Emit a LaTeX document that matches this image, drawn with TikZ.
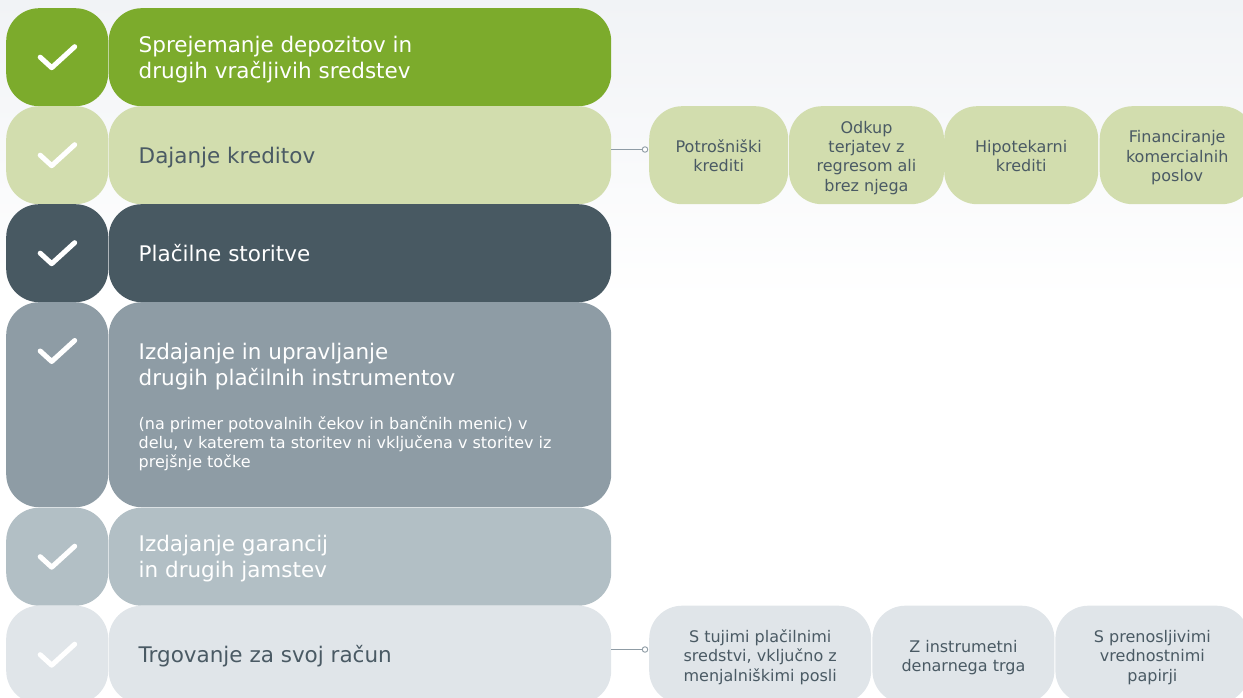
\documentclass[tikz,border=0pt]{standalone}
\usepackage{fontspec}
\setmainfont{DejaVu Sans}
\usetikzlibrary{calc}
\definecolor{cgreen}{HTML}{7CAB2C}
\definecolor{clime}{HTML}{D2DDAE}
\definecolor{cdark}{HTML}{485962}
\definecolor{cgray}{HTML}{8E9CA5}
\definecolor{cmid}{HTML}{B2BFC5}
\definecolor{cpale}{HTML}{E0E5E9}
\definecolor{ctext}{HTML}{4A5A64}
\definecolor{cline}{HTML}{8F9CA5}
\definecolor{cbg}{HTML}{F1F3F6}
\newcommand{\bigfont}{\lineskiplimit=-30pt\fontsize{21.5}{26}\selectfont}
\newcommand{\smallfont}{\lineskiplimit=-30pt\fontsize{16}{19.4}\selectfont}
\newcommand{\Bs}{\rule[-6pt]{0pt}{28pt}}
\newcommand{\Ss}{\rule[-4pt]{0pt}{22pt}}
\tikzset{
  x=1pt,y=-1pt,
  chkbox/.style={anchor=north west,inner sep=0pt,rounded corners=33pt,minimum width=102pt},
  mainbox/.style={anchor=north west,inner xsep=30pt,inner ysep=0pt,rounded corners=33pt,text width=442.5pt,align=flush left,font=\bigfont},
  subbox/.style={anchor=north west,inner sep=0pt,rounded corners=33pt,minimum height=98pt,align=flush center,font=\smallfont,text=ctext},
  tick/.style={draw=white,line width=5pt,line cap=round,line join=round},
  conn/.style={draw=cline,line width=1.1pt},
  dot/.style={circle,draw=cline,fill=white,line width=0.9pt,inner sep=0pt,minimum size=5.5pt}
}
\begin{document}
\begin{tikzpicture}
\clip (0,0) rectangle (1243,698);
\shade[top color=cbg,bottom color=white] (0,0) rectangle (1243,300);
% left check boxes
\node[chkbox,fill=cgreen,minimum height=98pt] (k1) at (6,8) {};
\node[chkbox,fill=clime,minimum height=98pt] (k2) at (6,106) {};
\node[chkbox,fill=cdark,minimum height=98pt] (k3) at (6,204) {};
\node[chkbox,fill=cgray,minimum height=205pt] (k4) at (6,302) {};
\node[chkbox,fill=cmid,minimum height=98pt] (k5) at (6,507.5) {};
\node[chkbox,fill=cpale,minimum height=98pt] (k6) at (6,605.5) {};
% main boxes
\node[mainbox,fill=cgreen,minimum height=98pt,text=white] (m1) at (108.5,8) {\Bs Sprejemanje depozitov in\\\Bs drugih vračljivih sredstev};
\node[mainbox,fill=clime,minimum height=98pt,text=ctext] (m2) at (108.5,106) {\Bs Dajanje kreditov};
\node[mainbox,fill=cdark,minimum height=98pt,text=white] (m3) at (108.5,204) {\Bs Plačilne storitve};
\node[mainbox,fill=cgray,minimum height=205pt,text=white] (m4) at (108.5,302) {\Bs Izdajanje in upravljanje\\drugih plačilnih instrumentov\\[24.5pt]{\lineskiplimit=-30pt\fontsize{16}{19}\selectfont (na primer potovalnih čekov in bančnih menic) v\\delu, v katerem ta storitev ni vključena v storitev iz\\prejšnje točke\rule[-4.2pt]{0pt}{4.2pt}\par}};
\node[mainbox,fill=cmid,minimum height=98pt,text=white] (m5) at (108.5,507.5) {\Bs Izdajanje garancij\\\Bs in drugih jamstev};
\node[mainbox,fill=cpale,minimum height=98pt,text=ctext] (m6) at (108.5,605.5) {\Bs Trgovanje za svoj račun};
% ticks
\foreach \k in {k1,k2,k3,k5,k6}{
  \draw[tick] ($(\k.center)+(-17,0)$) -- ++(11.5,10.5) -- ++(23,-21);
}
\draw[tick] ($(k4.north)+(-17,49)$) -- ++(11.5,10.5) -- ++(23,-21);
% sub boxes row 2
\node[subbox,fill=clime,minimum width=139pt] (a1) at (649,106) {\Ss Potrošniški\\\Ss krediti};
\node[subbox,fill=clime,minimum width=155pt] (a2) at (788.8,106) {\Ss Odkup\\\Ss terjatev z\\\Ss regresom ali\\\Ss brez njega};
\node[subbox,fill=clime,minimum width=154pt] (a3) at (944,106) {\Ss Hipotekarni\\\Ss krediti};
\node[subbox,fill=clime,minimum width=155pt] (a4) at (1099.5,106) {\Ss Financiranje\\\Ss komercialnih\\\Ss poslov};
% sub boxes row 6
\node[subbox,fill=cpale,minimum width=222pt] (b1) at (649,605.5) {\Ss S tujimi plačilnimi\\\Ss sredstvi, vključno z\\\Ss menjalniškimi posli};
\node[subbox,fill=cpale,minimum width=182pt] (b2) at (872.2,605.5) {\Ss Z instrumetni\\\Ss denarnega trga};
\node[subbox,fill=cpale,minimum width=194pt] (b3) at (1055.2,605.5) {\Ss S prenosljivimi\\\Ss vrednostnimi\\\Ss papirji};
% connectors
\node[dot] (d2) at (645,149.5) {};
\node[dot] (d6) at (645,649.5) {};
\draw[conn] (d2.west -| m2.east) -- (d2.west);
\draw[conn] (d6.west -| m6.east) -- (d6.west);
\end{tikzpicture}
\end{document}
